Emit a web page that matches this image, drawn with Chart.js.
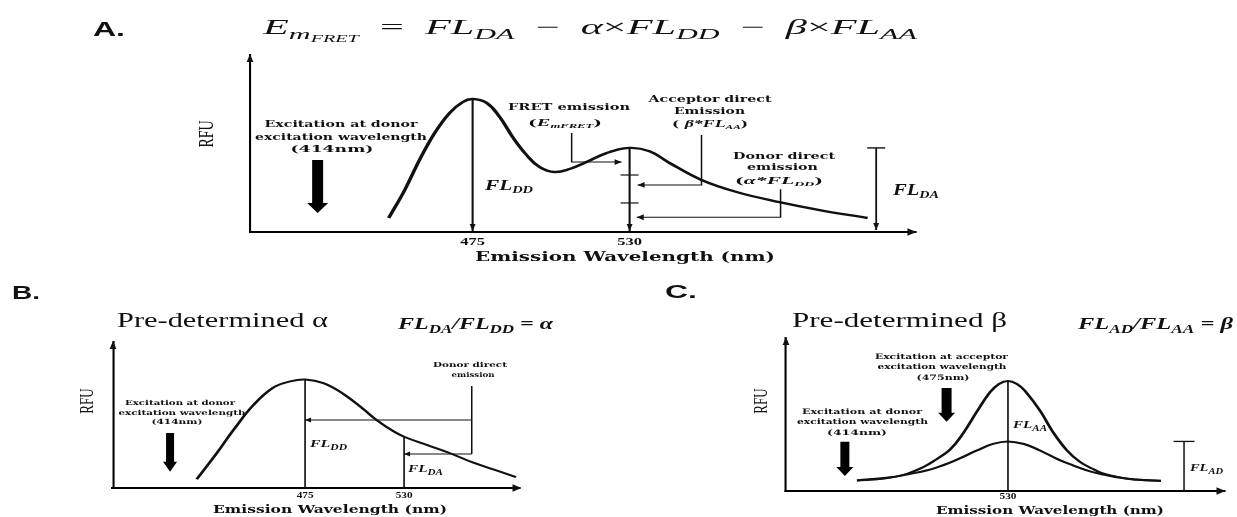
<!DOCTYPE html>
<html><head><meta charset="utf-8">
<script src="https://cdn.jsdelivr.net/npm/chart.js@4.4.1/dist/chart.umd.min.js"></script>
<style>
html,body{margin:0;padding:0;background:#fff;width:1237px;height:517px;overflow:hidden}
.p{position:absolute}
</style></head><body>
<div class="p" style="left:0;top:0;width:1237px;height:272px"><canvas id="ca"></canvas></div>
<div class="p" style="left:0;top:275px;width:615px;height:242px"><canvas id="cb"></canvas></div>
<div class="p" style="left:615px;top:275px;width:622px;height:242px"><canvas id="cc"></canvas></div>
<script>
// ===== Panel A: FRET spectrum (donor + acceptor) =====
const aWavelength = [445.6,451.2,456.4,461.7,466.9,471.5,475,479.9,484.5,489.0,493.9,498.5,503.7,509.0,514.9,521.9,530,537.0,544.0,555.2,567.5,582.5,596.6,613.4];
const aRfu        = [7.9,23.7,40.7,55.9,67.2,73.4,75.1,72.9,65.0,53.7,43.5,36.7,33.9,35.6,39.5,44.6,47.5,45.6,39.0,29.4,22.6,16.9,12.4,7.9];
const aTicks   = [475, 530];
const aMarkers = [475, 530];

// ===== Panel B: donor only =====
const bWavelength = [414.8,425.9,435.2,446.3,457.4,466.7,475,485.2,496.3,507.4,514.8,524.1,530,542.6,555.6,568.5,583.3,592.2];
const bRfu        = [6.0,23.8,39.7,56.8,68.8,73.0,74.3,71.8,64.4,54.0,46.5,38.8,35.1,29.5,23.8,17.3,11.2,7.5];
const bTicks   = [475, 530];
const bMarkers = [475, 530];

// ===== Panel C: acceptor only =====
const cAcceptorWavelength = [446.1,460,472,482.8,490,497.8,505,512.8,520,525,530,535,539.4,547.8,555,562.8,570,577,582.8,597.8,615];
const cAcceptorRfu        = [6.9,8.0,10.5,15.5,20.5,27.0,37.5,52.0,64.5,70.0,71.9,70.0,65.5,52.5,38.5,26.5,19.0,14.5,11.5,7.8,6.7];
const cDonorWavelength    = [446.1,465,477.2,489.4,501.7,512.8,521.7,530,538.9,547.8,557.2,564.4,575.6,582.8,597.8,615];
const cDonorRfu           = [6.9,9.0,11.5,15.0,20.5,26.5,30.8,32.4,30.7,26.5,21.0,17.5,12.8,10.8,7.8,6.5];
const cTicks   = [530];
const cMarkers = [530];

// ===== Annotation geometry (data units: nm, RFU) =====
const aFretPointer     = [[509.7,55.9],[509.7,39.5],[527.2,39.5]];
const aAcceptorPointer = [[555.2,54.8],[555.2,26.6],[532.8,26.6]];
const aDonorPointer    = [[582.9,24.1],[582.9,8.3],[532.5,8.3]];
const aSplitMarks      = [32.2, 16.4];
const aBracketWl       = 616.4;
const aExcitation      = [420.7, 40.7, 10.7];
const bDonorStem       = [[567.6,69.9],[567.6,23.3]];
const bDonorArrows     = [[[567.6,46.6],[475,46.6]], [[567.6,23.3],[530,23.3]]];
const bExcitation      = [400.0, 37.7, 11.2];
const cBracketWl       = 627.8;
const cAcceptorExc     = [495.9, 67.3, 45.3];
const cDonorExc        = [439.4, 32.2, 9.8];

// ===== rendering helpers =====
const SX = 1.5; // horizontal stretch of the original figure
const LBL   = s => `bold ${s}px "DejaVu Serif"`;
const SER   = s => `${s}px "Liberation Serif"`;
const SERI  = s => `italic ${s}px "Liberation Serif"`;
const SERBI = s => `italic bold ${s}px "Liberation Serif"`;
const SANSB = s => `bold ${s}px "Liberation Sans"`;
const pts = (xs, ys) => xs.map((x, i) => ({x, y: ys[i]}));
const valueAt = (xs, ys, v) => ys[xs.indexOf(v)];

function helpers(chart, ctx, off) {
  const X = v => chart.scales.x.getPixelForValue(v);
  const Y = v => chart.scales.y.getPixelForValue(v);
  const PX = p => (p - off.x) / SX;
  const PY = p => p - off.y;
  const ca = chart.chartArea;
  const h = {
    X, Y, PX, PY, ca,
    path(points, w) {
      ctx.save(); ctx.strokeStyle = '#111'; ctx.lineWidth = w; ctx.beginPath();
      points.forEach(([x, y], i) => i ? ctx.lineTo(x, y) : ctx.moveTo(x, y));
      ctx.stroke(); ctx.restore();
    },
    tip(x, y, dir, size) {
      const L = size, Hh = size * 0.42;
      ctx.save(); ctx.fillStyle = '#111'; ctx.beginPath();
      if (dir === 'left' || dir === 'right') {
        const s = dir === 'left' ? 1 : -1;
        ctx.moveTo(x, y); ctx.lineTo(x + s * L / SX, y - Hh); ctx.lineTo(x + s * L / SX, y + Hh);
      } else {
        const s = dir === 'up' ? 1 : -1;
        ctx.moveTo(x, y); ctx.lineTo(x - Hh / SX, y + s * L); ctx.lineTo(x + Hh / SX, y + s * L);
      }
      ctx.closePath(); ctx.fill(); ctx.restore();
    },
    pointer(dataPts, w, size) {
      const p = dataPts.map(([a, b]) => [X(a), Y(b)]);
      h.path(p, w);
      const [x1, y1] = p[p.length - 2], [x2, y2] = p[p.length - 1];
      const dir = Math.abs(x2 - x1) > Math.abs(y2 - y1) ? (x2 < x1 ? 'left' : 'right') : (y2 > y1 ? 'down' : 'up');
      h.tip(x2, y2, dir, size);
    },
    block(x, y0, y1, shaftReal, headReal, headLen) {
      const sh = shaftReal / 2 / SX, hh = headReal / 2 / SX;
      ctx.save(); ctx.fillStyle = '#000'; ctx.beginPath();
      ctx.moveTo(x - sh, y0); ctx.lineTo(x + sh, y0); ctx.lineTo(x + sh, y1 - headLen);
      ctx.lineTo(x + hh, y1 - headLen); ctx.lineTo(x, y1); ctx.lineTo(x - hh, y1 - headLen);
      ctx.lineTo(x - sh, y1 - headLen); ctx.closePath(); ctx.fill(); ctx.restore();
    },
    axisArrows() {
      h.tip(ca.left, ca.top - 1, 'up', 8);
      h.tip(ca.right + 1, ca.bottom, 'right', 9);
    },
    text(str, px, py, font, wReal, align = 'center') {
      ctx.save(); ctx.font = font; ctx.fillStyle = '#111'; ctx.textBaseline = 'middle'; ctx.textAlign = 'left';
      const m = ctx.measureText(str).width; const tw = wReal ? wReal / SX : m; const k = tw / m;
      let x = PX(px); if (align === 'center') x -= tw / 2;
      ctx.translate(x, PY(py)); ctx.scale(k, 1); ctx.fillText(str, 0, 0); ctx.restore();
    },
    runs(parts, px, baseY, wReal, align = 'left') {
      ctx.save(); ctx.fillStyle = '#111'; ctx.textBaseline = 'alphabetic'; ctx.textAlign = 'left';
      let total = 0;
      const ws = parts.map(([t, f]) => { ctx.font = f; const w = ctx.measureText(t).width; total += w; return w; });
      const tw = wReal ? wReal / SX : total; const k = tw / total;
      let x = PX(px); if (align === 'center') x -= tw / 2;
      ctx.translate(x, PY(baseY)); ctx.scale(k, 1);
      let cx = 0;
      parts.forEach(([t, f, dy], i) => { ctx.font = f; ctx.fillText(t, cx, dy || 0); cx += ws[i]; });
      ctx.restore();
    },
    vtext(str, px, py, font) {
      ctx.save(); ctx.font = font; ctx.fillStyle = '#111'; ctx.textAlign = 'center'; ctx.textBaseline = 'middle';
      ctx.translate(PX(px), PY(py)); ctx.rotate(-Math.PI / 2); ctx.fillText(str, 0, 0); ctx.restore();
    }
  };
  return h;
}

function stretchPlugin(off, drawFn) {
  return {
    id: 'stretchDraw',
    beforeDraw(chart) { chart.ctx.save(); chart.ctx.scale(SX, 1); },
    afterDraw(chart) {
      const ctx = chart.ctx;
      drawFn(helpers(chart, ctx, off));
      ctx.restore();
    }
  };
}

function options(frame, off, W, H, xmin, xmax, ticks, tickSize, tickPad, xH) {
  const left = (frame.left - off.x) / SX, right = (frame.right - off.x) / SX;
  const top = frame.top - off.y, bottom = frame.bottom - off.y;
  return {
    responsive: true, maintainAspectRatio: false, animation: false, events: [],
    layout: { padding: { left: left, right: W - right, top: top, bottom: H - bottom - xH } },
    plugins: { legend: { display: false }, tooltip: { enabled: false }, title: { display: false } },
    scales: {
      x: {
        type: 'linear', min: xmin, max: xmax,
        afterBuildTicks: s => { s.ticks = ticks.map(v => ({ value: v })); },
        afterFit: s => { s.height = xH; },
        grid: { display: false, drawTicks: false },
        border: { display: true, color: '#000', width: 2 },
        ticks: { font: { family: 'Liberation Serif', weight: 'bold', size: tickSize }, color: '#111',
                 padding: tickPad, maxRotation: 0, autoSkip: false, callback: v => String(v) }
      },
      y: {
        type: 'linear', min: 0, max: 100,
        afterFit: s => { s.width = 0; },
        grid: { display: false, drawTicks: false },
        border: { display: true, color: '#000', width: 1.4 },
        ticks: { display: false }
      }
    }
  };
}

const lineDs = (data, w) => ({ data, borderColor: '#111', borderWidth: w, pointRadius: 0, fill: false,
  tension: 0.4, clip: false });

// ===== Chart A =====
const offA = { x: 0, y: 0 };
new Chart(document.getElementById('ca'), {
  type: 'line',
  data: { datasets: [lineDs(pts(aWavelength, aRfu), 2.4)] },
  options: options({ left: 250, right: 915, top: 55, bottom: 232 }, offA, 1237, 272, 397, 630, aTicks, 11, 3.4, 30),
  plugins: [stretchPlugin(offA, h => {
    const { X, Y } = h;
    h.axisArrows();
    aMarkers.forEach(wl => {
      h.path([[X(wl), Y(valueAt(aWavelength, aRfu, wl))], [X(wl), Y(0) - 1]], 1.4);
      h.tip(X(wl), Y(0) - 1, 'down', 7);
    });
    aSplitMarks.forEach(r => h.path([[X(530) - 6, Y(r)], [X(530) + 6, Y(r)]], 1.2));
    h.pointer(aFretPointer, 1, 7);
    h.pointer(aAcceptorPointer, 1, 7);
    h.pointer(aDonorPointer, 1, 7);
    const top = valueAt(aWavelength, aRfu, 530);
    h.path([[X(aBracketWl), Y(top)], [X(aBracketWl), Y(0) - 2]], 1.2);
    h.tip(X(aBracketWl), Y(0) - 2, 'down', 7);
    h.path([[X(aBracketWl) - 6, Y(top)], [X(aBracketWl) + 6, Y(top)]], 1.4);
    h.block(X(aExcitation[0]), Y(aExcitation[1]), Y(aExcitation[2]), 11, 21, 10);

    h.text('A.', 109, 30, SANSB(21), 32);
    h.runs([['E', SERI(21)], ['m', SERI(15), 5], ['FRET', SERI(10), 8],
            ['\u2002=\u2002', SER(21)], ['FL', SERI(21)], ['DA', SERI(15), 5],
            ['\u2002\u2212\u2002', SER(21)], ['\u03b1', SERI(21)], ['\u00d7', SER(21)], ['FL', SERI(21)], ['DD', SERI(15), 5],
            ['\u2002\u2212\u2002', SER(21)], ['\u03b2', SERI(21)], ['\u00d7', SER(21)], ['FL', SERI(21)], ['AA', SERI(15), 5]],
           263, 34, 654, 'left');
    h.text('Excitation at donor', 341, 125, LBL(9.5), 153);
    h.text('excitation wavelength', 341, 138, LBL(9.5), 172);
    h.text('(414nm)', 332, 150, LBL(9.5), 83);
    h.text('FRET emission', 569, 108, LBL(9.5), 122);
    h.runs([['(', LBL(9.5)], ['E', SERBI(10.5)], ['mFRET', SERBI(6.5), 2], [')', LBL(9.5)]], 565, 125.5, 74, 'center');
    h.text('Acceptor direct', 710, 100, LBL(9.5), 123);
    h.text('Emission', 709.5, 112, LBL(9.5), 71);
    h.runs([['( ', LBL(9.5)], ['\u03b2*FL', SERBI(11)], ['AA', SERBI(7), 2], [')', LBL(9.5)]], 710, 127, 76, 'center');
    h.text('Donor direct', 784, 157, LBL(9.5), 102);
    h.text('emission', 782.5, 168, LBL(9.5), 71);
    h.runs([['(', LBL(9.5)], ['\u03b1*FL', SERBI(11)], ['DD', SERBI(7), 2], [')', LBL(9.5)]], 779, 184, 88, 'center');
    h.runs([['FL', SERBI(14)], ['DD', SERBI(9.5), 3]], 485, 190, 48, 'left');
    h.runs([['FL', SERBI(16)], ['DA', SERBI(11), 3]], 893, 195, 46, 'left');
    h.vtext('RFU', 207, 134, SER(14));
    h.text('Emission Wavelength (nm)', 625, 258, LBL(13), 300);
  })]
});

// ===== Chart B =====
const offB = { x: 0, y: 275 };
new Chart(document.getElementById('cb'), {
  type: 'line',
  data: { datasets: [lineDs(pts(bWavelength, bRfu), 2)] },
  options: options({ left: 113, right: 520, top: 342, bottom: 488 }, offB, 615, 242, 368.3, 594.4, bTicks, 7.5, 3.5, 25),
  plugins: [stretchPlugin(offB, h => {
    const { X, Y } = h;
    h.axisArrows();
    bMarkers.forEach(wl => h.path([[X(wl), Y(valueAt(bWavelength, bRfu, wl))], [X(wl), Y(0)]], 1.1));
    h.path(bDonorStem.map(([a, b]) => [X(a), Y(b)]), 1);
    bDonorArrows.forEach(p => h.pointer(p, 0.9, 6));
    h.block(X(bExcitation[0]), Y(bExcitation[1]), Y(bExcitation[2]), 8, 14, 10);

    h.text('B.', 26, 294, SANSB(18), 28);
    h.runs([['Pre-determined \u03b1', SER(20)]], 117, 327, 211, 'left');
    h.runs([['FL', SERBI(17)], ['DA', SERBI(12), 4], ['/', SERBI(17)], ['FL', SERBI(17)], ['DD', SERBI(12), 4],
            [' = ', SERBI(17)], ['\u03b1', SERBI(17)]], 398, 329, 155, 'left');
    h.text('Donor direct', 470, 365, LBL(7), 74);
    h.text('emission', 473, 375, LBL(7), 43);
    h.text('Excitation at donor', 180, 403, LBL(7), 110);
    h.text('excitation wavelength', 182, 413, LBL(7), 127);
    h.text('(414nm)', 177, 422, LBL(7), 51);
    h.runs([['FL', SERBI(11)], ['DD', SERBI(8), 2.5]], 310, 447, 37, 'left');
    h.runs([['FL', SERBI(11)], ['DA', SERBI(8), 2.5]], 408, 472, 35, 'left');
    h.vtext('RFU', 88, 401, SER(13));
    h.text('Emission Wavelength (nm)', 330, 510, LBL(10.5), 234);
  })]
});

// ===== Chart C =====
const offC = { x: 615, y: 275 };
new Chart(document.getElementById('cc'), {
  type: 'line',
  data: { datasets: [lineDs(pts(cAcceptorWavelength, cAcceptorRfu), 2), lineDs(pts(cDonorWavelength, cDonorRfu), 2)] },
  options: options({ left: 786, right: 1224, top: 338, bottom: 491 }, offC, 622, 242, 406.7, 650, cTicks, 7.5, 1.5, 25),
  plugins: [stretchPlugin(offC, h => {
    const { X, Y } = h;
    h.axisArrows();
    cMarkers.forEach(wl => h.path([[X(wl), Y(valueAt(cAcceptorWavelength, cAcceptorRfu, wl))], [X(wl), Y(0)]], 1.1));
    const top = valueAt(cDonorWavelength, cDonorRfu, 530);
    h.path([[X(cBracketWl), Y(top)], [X(cBracketWl), Y(0)]], 1);
    h.path([[X(cBracketWl) - 7, Y(top)], [X(cBracketWl) + 7, Y(top)]], 1.3);
    h.block(X(cAcceptorExc[0]), Y(cAcceptorExc[1]), Y(cAcceptorExc[2]), 10, 17, 9);
    h.block(X(cDonorExc[0]), Y(cDonorExc[1]), Y(cDonorExc[2]), 9, 17, 9);

    h.text('C.', 681, 293, SANSB(18), 32);
    h.runs([['Pre-determined \u03b2', SER(20)]], 792, 327, 215, 'left');
    h.runs([['FL', SERBI(17)], ['AD', SERBI(12), 4], ['/', SERBI(17)], ['FL', SERBI(17)], ['AA', SERBI(12), 4],
            [' = ', SERBI(17)], ['\u03b2', SERBI(17)]], 1078, 329, 155, 'left');
    h.text('Excitation at acceptor', 941.5, 357, LBL(7.5), 133);
    h.text('excitation wavelength', 942, 367, LBL(7.5), 129);
    h.text('(475nm)', 943, 378, LBL(7.5), 53);
    h.text('Excitation at donor', 862, 412, LBL(7.5), 120);
    h.text('excitation wavelength', 862.5, 422, LBL(7.5), 131);
    h.text('(414nm)', 857, 433, LBL(7.5), 60);
    h.runs([['FL', SERBI(11)], ['AA', SERBI(8), 2.5]], 1013, 428, 34, 'left');
    h.runs([['FL', SERBI(11)], ['AD', SERBI(8), 2.5]], 1190, 471, 33, 'left');
    h.vtext('RFU', 762, 401, SER(13));
    h.text('Emission Wavelength (nm)', 1050, 511, LBL(10.5), 228);
  })]
});
</script>
</body></html>
